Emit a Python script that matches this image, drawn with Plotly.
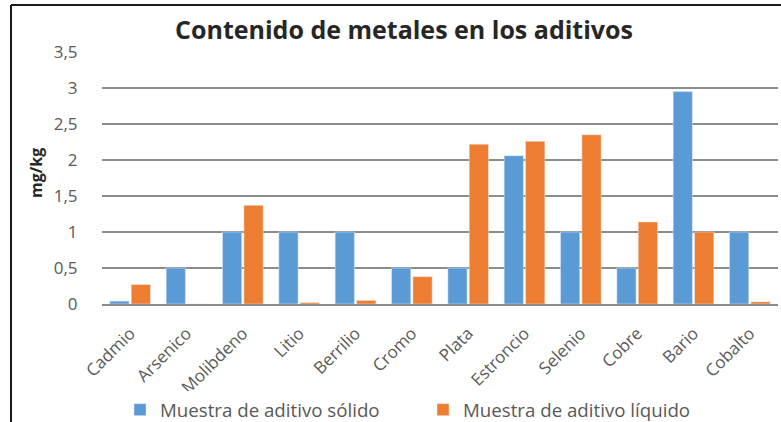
import plotly.graph_objects as go

categorias = ["Cadmio", "Arsenico", "Molibdeno", "Litio", "Berrilio", "Cromo",
              "Plata", "Estroncio", "Selenio", "Cobre", "Bario", "Cobalto"]
solido = [0.04, 0.5, 1.0, 1.0, 1.0, 0.5, 0.5, 2.06, 1.0, 0.5, 2.95, 1.0]
liquido = [0.27, 0.0, 1.37, 0.02, 0.05, 0.38, 2.22, 2.26, 2.35, 1.14, 1.0, 0.03]
serie_solido = "Muestra de aditivo sólido"
serie_liquido = "Muestra de aditivo líquido"
y_ticks = [0, 0.5, 1, 1.5, 2, 2.5, 3, 3.5]

W, H = 781, 422
ml, mr, mt, mb = 102, 3, 52, 118
pw = W - ml - mr
ph = H - mt - mb

fig = go.Figure()
fig.add_trace(go.Bar(x=categorias, y=solido, name=serie_solido, marker_color="#5B9BD5"))
fig.add_trace(go.Bar(x=categorias, y=liquido, name=serie_liquido, marker_color="#ED7D31"))

font_fam = "Open Sans, Liberation Sans, sans-serif"
fig.update_layout(
    width=W, height=H,
    margin=dict(l=ml, r=mr, t=mt, b=mb, autoexpand=False),
    paper_bgcolor="white", plot_bgcolor="white",
    separators=",.",
    barmode="group", bargap=0.24, bargroupgap=0.1,
    font=dict(family=font_fam, color="#595959", size=14),
    title=dict(text="<b>Contenido de metales en los aditivos</b>",
               font=dict(family=font_fam, size=25, color="#262626"),
               x=404 / W, xanchor="center", y=1 - 30 / H, yanchor="middle"),
    showlegend=True,
    legend=dict(orientation="h", x=(120 - ml) / pw, xanchor="left",
                y=-(410 - (H - mb)) / ph, yanchor="middle",
                font=dict(size=18.7, color="#595959"), itemwidth=30,
                entrywidth=258, entrywidthmode="pixels",
                traceorder="normal"),
)
fig.update_yaxes(range=[0, 3.5], tickvals=y_ticks, showgrid=True, automargin=False,
                 gridcolor="#8c8c8c", gridwidth=1.5, zeroline=False,
                 ticks="outside", ticklen=20, tickcolor="rgba(0,0,0,0)",
                 tickfont=dict(size=17, color="#595959"))
fig.update_xaxes(tickangle=-45, showline=True, linecolor="#8c8c8c", linewidth=1.5,
                 automargin=False, ticks="outside", ticklen=11, tickcolor="rgba(0,0,0,0)",
                 tickfont=dict(size=17, color="#595959"))

# y-axis title
fig.add_annotation(text="<b>mg/kg</b>", xref="paper", yref="paper",
                   x=(36 - ml) / pw, y=(H - mb - 173) / ph, xanchor="center", yanchor="middle",
                   textangle=-90, showarrow=False, font=dict(size=16, color="#262626"))

# chart frame (left and top edges)
x_left = (11 - ml) / pw
y_top = 1 + (mt - 5) / ph
y_bot = -(mb + 5) / ph
fig.add_shape(type="line", xref="paper", yref="paper", x0=x_left, x1=x_left,
              y0=y_bot, y1=y_top, line=dict(color="#1a1a1a", width=2))
fig.add_shape(type="line", xref="paper", yref="paper", x0=x_left, x1=1.01,
              y0=y_top, y1=y_top, line=dict(color="#1a1a1a", width=2))

fig.write_html("out.html", config={"displayModeBar": False},
               post_script="document.body.style.margin='0';")
